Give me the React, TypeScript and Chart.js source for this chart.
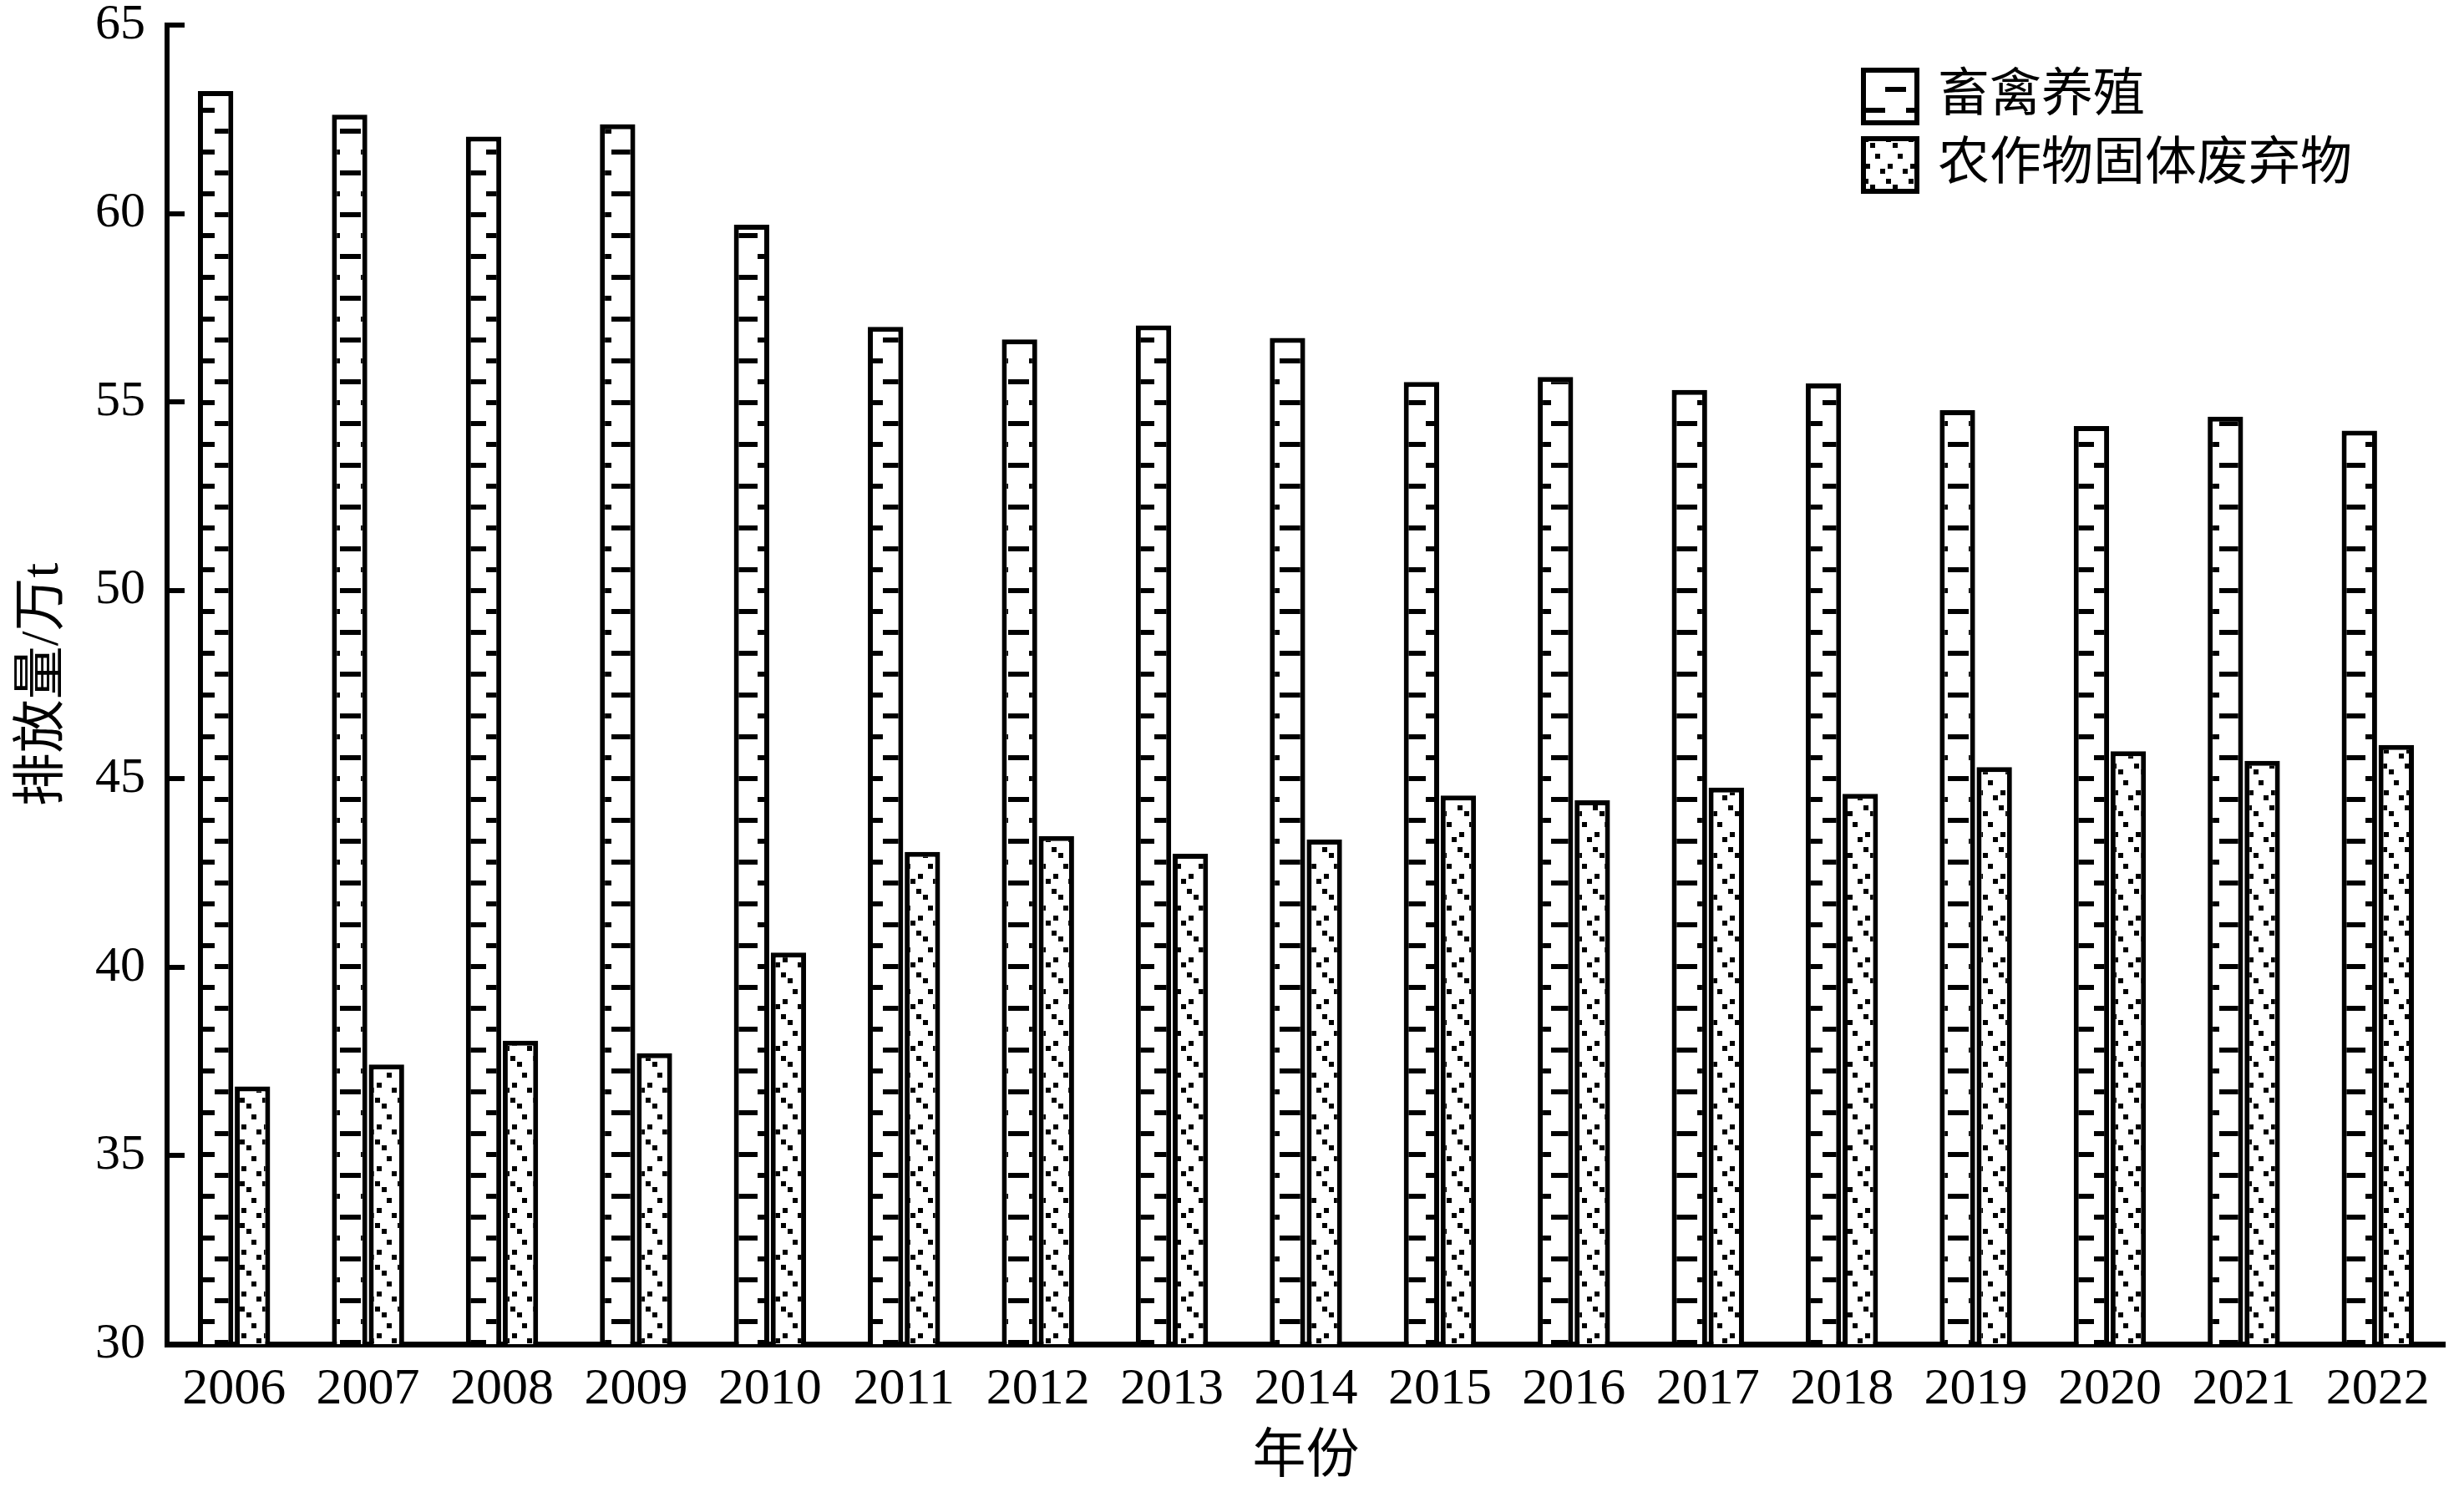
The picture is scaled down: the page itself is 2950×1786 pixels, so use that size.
import React, { useEffect, useRef } from 'react';
import { Chart, registerables } from 'chart.js';

Chart.register(...registerables);

const years = ['2006', '2007', '2008', '2009', '2010', '2011', '2012', '2013', '2014', '2015', '2016', '2017', '2018', '2019', '2020', '2021', '2022'];
const livestock = [63.25, 62.62, 62.04, 62.37, 59.7, 56.99, 56.66, 57.03, 56.7, 55.53, 55.66, 55.32, 55.49, 54.78, 54.36, 54.61, 54.24];
const cropWaste = [36.84, 37.42, 38.05, 37.72, 40.39, 43.06, 43.48, 43.01, 43.39, 44.56, 44.43, 44.77, 44.6, 45.31, 45.73, 45.48, 45.9];
const seriesLabels = ['畜禽养殖', '农作物固体废弃物'];
const xTitle = '年份';
const yTitle = '排放量/万t';
const yMin = 30;
const yMax = 65;
const yStep = 5;

const FONT = '"Liberation Serif", "Times New Roman", "Noto Sans CJK SC", serif';

function makeDashPattern(ctx: CanvasRenderingContext2D): CanvasPattern | string {
  const c = document.createElement('canvas');
  c.width = 50;
  c.height = 50;
  const t = c.getContext('2d');
  if (!t) return '#fff';
  t.fillStyle = '#fff';
  t.fillRect(0, 0, 50, 50);
  t.fillStyle = '#000';
  t.fillRect(7, 4, 25, 6);
  t.fillRect(32, 29, 18, 6);
  t.fillRect(0, 29, 7, 6);
  return ctx.createPattern(c, 'repeat') || '#fff';
}

function makeDotPattern(ctx: CanvasRenderingContext2D): CanvasPattern | string {
  const c = document.createElement('canvas');
  c.width = 27;
  c.height = 50;
  const t = c.getContext('2d');
  if (!t) return '#fff';
  t.fillStyle = '#fff';
  t.fillRect(0, 0, 27, 50);
  t.fillStyle = '#000';
  const dots = [
    [13, 5],
    [19.7, 17.3],
    [1.3, 24.3],
    [7.3, 36.7],
    [21.7, 49.3],
  ];
  dots.forEach(([x, y]) => {
    for (const dx of [-27, 0, 27]) {
      for (const dy of [-50, 0, 50]) {
        t.fillRect(Math.round(x + dx - 3), Math.round(y + dy - 3), 6, 6);
      }
    }
  });
  return ctx.createPattern(c, 'repeat') || '#fff';
}

const inwardTicks = {
  id: 'inwardTicks',
  afterDraw(chart: any) {
    const { ctx, chartArea } = chart;
    const y = chart.scales.y;
    ctx.save();
    ctx.fillStyle = '#000';
    y.ticks.forEach((t: any) => {
      const py = y.getPixelForValue(t.value);
      ctx.fillRect(chartArea.left, Math.round(py - 3), 21, 6);
    });
    ctx.restore();
  },
};

const manualLegend = {
  id: 'manualLegend',
  afterDraw(chart: any) {
    const { ctx } = chart;
    ctx.save();
    chart.data.datasets.forEach((ds: any, i: number) => {
      const bx = 2228;
      const by = 81 + i * 82;
      const bw = 70;
      const bh = 69;
      ctx.fillStyle = ds.backgroundColor;
      ctx.fillRect(bx, by, bw, bh);
      ctx.lineWidth = 6;
      ctx.strokeStyle = '#000';
      ctx.strokeRect(bx + 3, by + 3, bw - 6, bh - 6);
      ctx.fillStyle = '#000';
      ctx.font = `62px ${FONT}`;
      ctx.textBaseline = 'middle';
      ctx.textAlign = 'left';
      ctx.fillText(ds.label, 2320, by + bh / 2 + 1);
    });
    ctx.restore();
  },
};

export default function App() {
  const ref = useRef<HTMLCanvasElement | null>(null);

  useEffect(() => {
    const canvas = ref.current;
    if (!canvas) return;
    const ctx = canvas.getContext('2d');
    if (!ctx) return;
    const dash = makeDashPattern(ctx);
    const dots = makeDotPattern(ctx);

    const chart = new Chart(canvas, {
      type: 'bar',
      data: {
        labels: years,
        datasets: [
          {
            label: seriesLabels[0],
            data: livestock,
            backgroundColor: dash as any,
            borderColor: '#000',
            borderWidth: 6,
            categoryPercentage: 0.55,
            barPercentage: 0.96,
          },
          {
            label: seriesLabels[1],
            data: cropWaste,
            backgroundColor: dots as any,
            borderColor: '#000',
            borderWidth: 6,
            categoryPercentage: 0.55,
            barPercentage: 0.96,
          },
        ],
      },
      options: {
        responsive: false,
        animation: false,
        devicePixelRatio: 1,
        layout: { padding: { left: 0, top: 30, right: 23, bottom: 0 } },
        plugins: {
          legend: { display: false },
          tooltip: { enabled: false },
        },
        scales: {
          x: {
            grid: { display: false, drawTicks: false },
            border: { display: true, color: '#000', width: 7 },
            ticks: {
              color: '#000',
              font: { family: FONT, size: 62 },
              padding: 18,
              maxRotation: 0,
              autoSkip: false,
            },
            title: {
              display: true,
              text: xTitle,
              color: '#000',
              font: { family: FONT, size: 64 },
              padding: { top: 0, bottom: 2 },
            },
            afterFit: (s: any) => {
              s.height = 177;
              s.paddingLeft = 0;
              s.paddingRight = 0;
            },
          },
          y: {
            min: yMin,
            max: yMax,
            ticks: {
              stepSize: yStep,
              color: '#000',
              font: { family: FONT, size: 60 },
              padding: 26,
            },
            grid: { display: false, drawTicks: false },
            border: { display: true, color: '#000', width: 6 },
            title: {
              display: true,
              text: yTitle,
              color: '#000',
              font: { family: FONT, size: 64 },
              padding: { top: 14, bottom: 0 },
            },
            afterFit: (s: any) => {
              s.width = 200;
              s.paddingTop = 0;
              s.paddingBottom = 0;
            },
          },
        },
      },
      plugins: [inwardTicks, manualLegend],
    });

    return () => {
      chart.destroy();
    };
  }, []);

  return (
    <div style={{ position: 'fixed', left: 0, top: 0, width: 2950, height: 1786, background: '#fff' }}>
      <canvas ref={ref} width={2950} height={1786} style={{ display: 'block' }} />
    </div>
  );
}
